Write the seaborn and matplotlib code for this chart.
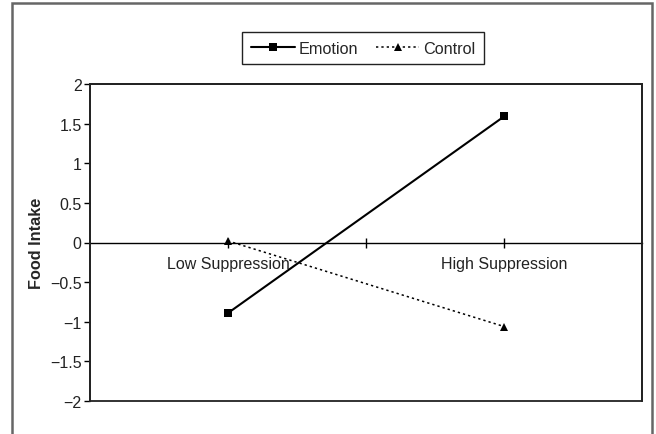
import matplotlib
matplotlib.use("Agg")
import matplotlib.pyplot as plt
from matplotlib.patches import Rectangle
import pandas as pd
import seaborn as sns

# values
conditions = ["Low Suppression", "High Suppression"]
emotion = [-0.89, 1.59]
control = [0.02, -1.06]
y_ticks = [-2, -1.5, -1, -0.5, 0, 0.5, 1, 1.5, 2]
y_tick_labels = ["\u22122", "\u22121.5", "\u22121", "\u22120.5", "0", "0.5", "1", "1.5", "2"]

data = pd.DataFrame({
    "Condition": conditions * 2,
    "Food Intake": emotion + control,
    "Group": ["Emotion"] * len(conditions) + ["Control"] * len(conditions),
})

sns.set_theme(style="white")
plt.rcParams["font.family"] = ["Liberation Sans", "DejaVu Sans"]

fig = plt.figure(figsize=(6.56, 4.35), dpi=100)
W, H = 656, 435
ax = fig.add_axes([90 / W, 1 - 402 / H, (642 - 90) / W, (402 - 85) / H])

sns.lineplot(data=data, x="Condition", y="Food Intake", hue="Group", style="Group",
             palette={"Emotion": "black", "Control": "black"},
             markers={"Emotion": "s", "Control": "^"},
             dashes={"Emotion": "", "Control": (1.5, 2)},
             markersize=5.5, markeredgewidth=0, ax=ax, legend=False)
for line in ax.lines:
    if line.get_linestyle() == "-":
        line.set_linewidth(1.5)
        line.set_markersize(5.2)
    else:
        line.set_linewidth(1.1)
        line.set_markersize(6.2)

ax.set_xlim(-0.5, 1.5)
ax.set_ylim(-2, 2)
ax.set_yticks(y_ticks)
ax.set_yticklabels(y_tick_labels)
ax.set_xlabel("")
ax.set_ylabel("Food Intake", fontsize=11.7, fontweight="bold", labelpad=4)

# category axis sits on zero
for side in ["top", "right", "left"]:
    ax.spines[side].set_visible(True)
    ax.spines[side].set_color("#222222")
    ax.spines[side].set_linewidth(1.3)
ax.spines["bottom"].set_position(("data", 0))
ax.spines["bottom"].set_color("black")
ax.spines["bottom"].set_linewidth(1.0)
ax.add_patch(Rectangle((0, 0), 1, 1, transform=ax.transAxes, fill=False,
                       edgecolor="#222222", linewidth=1.3, clip_on=False, zorder=5))

ax.set_xticks([0, 1])
ax.set_xticklabels(conditions)
ax.set_xticks([0.5], minor=True)
ax.tick_params(axis="x", which="both", direction="inout", length=7, width=1,
               pad=6, labelsize=11.5, bottom=True, color="black", labelcolor="#222222")
ax.tick_params(axis="y", direction="out", length=4, width=1, left=True,
               labelsize=11.5, pad=2, color="black", labelcolor="#222222")

# legend built from the plotted lines
handles = ax.lines[:2]
fig.legend(handles, ["Emotion", "Control"], loc="center",
           bbox_to_anchor=(363 / W, 1 - 49 / H), ncol=2, fontsize=11.7,
           frameon=True, fancybox=False, edgecolor="#222222", framealpha=1,
           handlelength=2.7, handletextpad=0.2, columnspacing=1.1,
           borderpad=0.55)
fig.legends[0].get_frame().set_linewidth(1.0)

# outer frame around the figure, open at the bottom
fig.add_artist(Rectangle((12 / W, -0.05), (652 - 12) / W, 1.05 - 4 / H,
                         transform=fig.transFigure, fill=False,
                         edgecolor="#666666", linewidth=1.8))

fig.savefig("out.png", dpi=100)
